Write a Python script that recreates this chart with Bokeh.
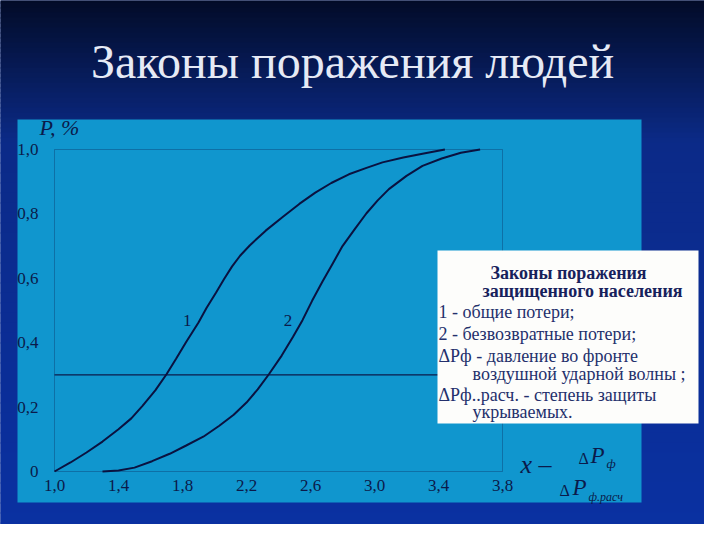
from bokeh.plotting import figure
from bokeh.models import Range1d, FixedTicker, Label, BoxAnnotation
from bokeh.embed import file_html
from bokeh.resources import INLINE

# ---------------- data ----------------
x_ticks = [1.0, 1.4, 1.8, 2.2, 2.6, 3.0, 3.4, 3.8]
x_tick_labels = ["1,0", "1,4", "1,8", "2,2", "2,6", "3,0", "3,4", "3,8"]
y_ticks = [0.0, 0.2, 0.4, 0.6, 0.8, 1.0]
y_tick_labels = ["0", "0,2", "0,4", "0,6", "0,8", "1,0"]
x_min, x_max = 1.0, 3.8
y_min, y_max = 0.0, 1.0

# curve 1 - total losses
curve1_x = [1.00, 1.10, 1.20, 1.30, 1.40, 1.48, 1.55, 1.63, 1.70, 1.76, 1.82, 1.90,
            1.95, 2.01, 2.06, 2.11, 2.16, 2.22, 2.32, 2.43, 2.53, 2.63, 2.73, 2.84,
            2.95, 3.05, 3.18, 3.30, 3.44]
curve1_y = [0.000, 0.028, 0.059, 0.093, 0.131, 0.165, 0.204, 0.252, 0.302, 0.350, 0.400, 0.463,
            0.508, 0.556, 0.598, 0.637, 0.670, 0.702, 0.748, 0.792, 0.831, 0.866, 0.896, 0.923,
            0.943, 0.960, 0.975, 0.987, 1.000]
# curve 2 - irrecoverable losses
curve2_x = [1.30, 1.40, 1.50, 1.61, 1.72, 1.82, 1.93, 2.03, 2.12, 2.20, 2.27, 2.34,
            2.42, 2.49, 2.55, 2.61, 2.675, 2.74, 2.80, 2.88, 2.95, 3.02, 3.09, 3.20,
            3.30, 3.42, 3.54, 3.66]
curve2_y = [0.000, 0.003, 0.012, 0.032, 0.055, 0.080, 0.108, 0.142, 0.176, 0.214, 0.255, 0.302,
            0.360, 0.418, 0.470, 0.530, 0.590, 0.647, 0.700, 0.755, 0.802, 0.842, 0.877, 0.918,
            0.949, 0.972, 0.990, 1.000]
threshold = 0.3

curve_names = ["1", "2"]
curve_name_x = [1.83, 2.46]
curve_name_y = [0.469, 0.469]

title_text = "Законы поражения людей"
y_axis_label = "P, %"
legend_title = ["Законы поражения", "защищенного населения"]
legend_lines = ["1 - общие потери;", "2 - безвозвратные потери;",
                "ΔPф - давление во фронте", "воздушной ударной волны ;",
                "ΔPф..расч. - степень защиты", "укрываемых."]

# ---------------- layout (page pixels) ----------------
W, H = 704, 524
PAGE_OFF = 8
PLOT_L, PLOT_R, PLOT_T, PLOT_B = 62, 510, 157, 479   # where the data rectangle sits

kx = (PLOT_R - PLOT_L) / (x_max - x_min)
ky = (PLOT_B - PLOT_T) / (y_max - y_min)
x_range = Range1d(x_min - (PLOT_L - PAGE_OFF) / kx, x_min + (PAGE_OFF + W - PLOT_L) / kx)
y_range = Range1d(y_min - (PAGE_OFF + H - PLOT_B) / ky, y_min + (PLOT_B - PAGE_OFF) / ky)

SERIF = "Liberation Serif"
INK = "#0B1A4A"
PANEL = "#1096CE"

p = figure(width=W, height=H, output_backend="svg", toolbar_location=None,
           x_range=x_range, y_range=y_range,
           min_border=0, min_border_left=0, min_border_right=0,
           min_border_top=0, min_border_bottom=0)
p.background_fill_color = "#0A2B8E"
p.border_fill_color = "#0A2B8E"
p.outline_line_color = None
p.xgrid.visible = False
p.ygrid.visible = False


def sx(px):
    return px - PAGE_OFF


def sy(py):
    return PAGE_OFF + H - py


def hexmix(c1, c2, t):
    a = [int(c1[i:i + 2], 16) for i in (1, 3, 5)]
    b = [int(c2[i:i + 2], 16) for i in (1, 3, 5)]
    return "#" + "".join("%02x" % int(round(a[k] + (b[k] - a[k]) * t)) for k in range(3))


def sbox(l, r, t, b, **kw):
    p.add_layout(BoxAnnotation(left=sx(l), right=sx(r), top=sy(t), bottom=sy(b),
                               left_units="screen", right_units="screen",
                               top_units="screen", bottom_units="screen", **kw))


# background gradient (decoration)
n1 = 30
for i in range(n1):
    y0 = i * 5
    sbox(0, 720, y0, y0 + 6, fill_color=hexmix("#020a24", "#0b2a86", i / (n1 - 1)),
         fill_alpha=1.0, line_color=None, level="image")
n2 = 40
for i in range(n2):
    y0 = 150 + i * 10
    sbox(0, 720, y0, y0 + 11, fill_color=hexmix("#0b2a88", "#0a31a2", i / (n2 - 1)),
         fill_alpha=1.0, line_color=None, level="image")

# light-blue panel
sbox(25, 649, 127, 510, fill_color=PANEL, fill_alpha=1.0, line_color=None, level="image")

# plot rectangle (frame of the diagram), in data units
p.add_layout(BoxAnnotation(left=x_min, right=x_max, bottom=y_min, top=y_max,
                           fill_alpha=0, line_color=INK, line_width=1, level="underlay"))

# axes placed on the data rectangle
p.xaxis.fixed_location = y_min
p.yaxis.fixed_location = x_min
p.xaxis.ticker = FixedTicker(ticks=x_ticks)
p.xaxis.major_label_overrides = dict(zip(x_ticks, x_tick_labels))
p.yaxis.ticker = FixedTicker(ticks=y_ticks)
p.yaxis.major_label_overrides = dict(zip(y_ticks, y_tick_labels))
for ax in (p.xaxis, p.yaxis):
    ax.axis_line_color = None
    ax.major_tick_line_color = None
    ax.minor_tick_line_color = None
    ax.major_tick_out = 0
    ax.major_tick_in = 0
    ax.minor_tick_out = 0
    ax.minor_tick_in = 0
    ax.major_label_text_font = SERIF
    ax.major_label_text_font_size = "17px"
    ax.major_label_text_color = INK
p.xaxis.major_label_standoff = 8
p.yaxis.major_label_standoff = 16

# data
p.segment(x0=[x_min], y0=[threshold], x1=[x_max], y1=[threshold], line_color=INK, line_width=1.2)
p.line(curve1_x, curve1_y, line_color="#0A1240", line_width=2)
p.line(curve2_x, curve2_y, line_color="#0A1240", line_width=2)
for name, cx, cy in zip(curve_names, curve_name_x, curve_name_y):
    p.add_layout(Label(x=cx, y=cy, text=name, text_font=SERIF, text_font_size="17px",
                       text_color=INK, text_align="center", text_baseline="middle"))


def lab(text, px, py, size, align="left", style="normal", color=INK):
    p.add_layout(Label(x=sx(px), y=sy(py), x_units="screen", y_units="screen", text=text,
                       text_font=SERIF, text_font_size="%dpx" % size, text_font_style=style,
                       text_color=color, text_align=align, text_baseline="middle"))


# title
lab(title_text, 360, 69, 48, align="center", color="#E6EAF5")
# axis labels
lab(y_axis_label, 47, 135, 22, style="italic")
lab("x –", 528, 472, 26, style="italic")
lab("Δ", 586, 466, 16)
lab("P", 598, 463, 23, style="italic")
lab("ф", 614, 471, 13, style="italic")
lab("Δ", 567, 498, 16)
lab("P", 580, 495, 23, style="italic")
lab("ф.расч", 596, 504, 12, style="italic")

# legend box
sbox(445, 706, 258, 431, fill_color="#FDFDFB", fill_alpha=1.0, line_color=None, level="annotation")
LEG = "#17215C"
LEG2 = "#24306C"
lab(legend_title[0], 576, 280, 18, align="center", style="bold", color=LEG)
lab(legend_title[1], 590, 298, 18, align="center", style="bold", color=LEG)
lab(legend_lines[0], 446, 319, 18, color=LEG2)
lab(legend_lines[1], 446, 341, 18, color=LEG2)
lab(legend_lines[2], 446, 363, 18, color=LEG2)
lab(legend_lines[3], 480, 381, 18, color=LEG2)
lab(legend_lines[4], 446, 402, 18, color=LEG2)
lab(legend_lines[5], 480, 419, 18, color=LEG2)

open("out.html", "w").write(file_html(p, INLINE))
